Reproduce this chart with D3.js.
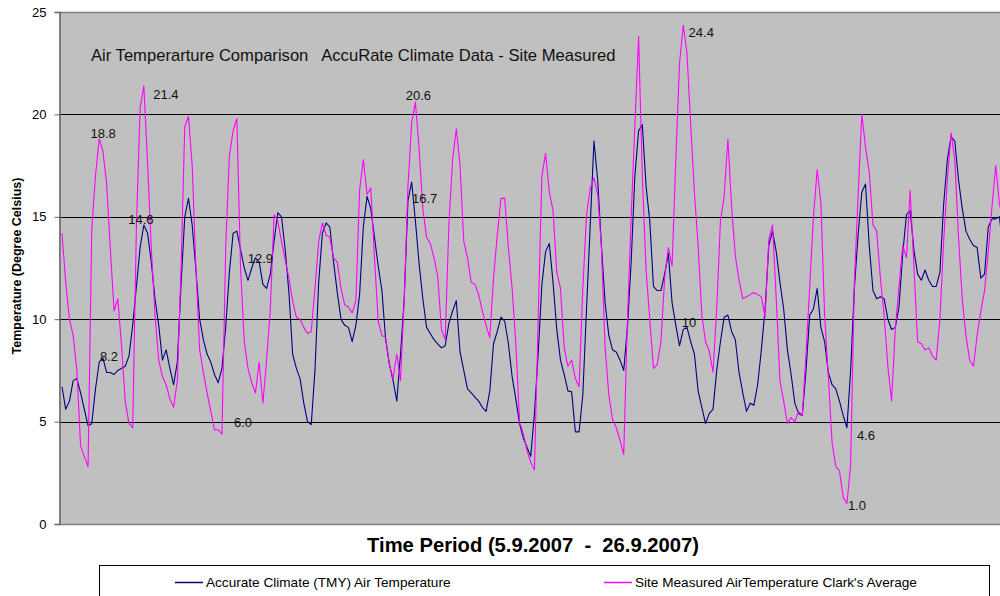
<!DOCTYPE html>
<html><head><meta charset="utf-8">
<script src="https://cdn.jsdelivr.net/npm/d3@7"></script>
<style>
html,body{margin:0;padding:0;background:#fff;}
svg{display:block;font-family:"Liberation Sans",Arial,sans-serif;}
</style></head>
<body><svg id="chart" width="1000" height="596"></svg>
<script>
// ---- data (2-hourly samples, 5.9.2007 - 26.9.2007) ----
const accurateClimate = [
6.7,5.6,6.0,7.0,7.1,6.4,5.6,4.8,4.9,6.6,
7.9,8.1,7.4,7.4,7.3,7.5,7.6,7.7,8.2,9.7,
11.6,13.5,14.6,14.2,12.8,11.0,9.7,8.0,8.5,7.6,
6.8,7.9,11.7,15.0,15.9,14.6,12.4,10.0,9.0,8.3,
7.9,7.3,6.9,7.6,9.6,12.3,14.2,14.3,13.4,12.5,
11.9,12.5,13.0,12.8,11.7,11.5,12.2,13.8,15.2,15.0,
13.4,11.3,8.3,7.6,7.1,5.9,5.0,4.85,7.5,11.8,
14.2,14.7,14.5,12.8,11.3,10.0,9.7,9.6,8.9,9.7,
11.2,14.5,16.0,15.4,14.0,12.6,11.4,9.0,7.8,7.0,
6.0,8.3,11.0,15.8,16.7,14.8,12.7,11.0,9.6,9.3,
9.0,8.8,8.6,8.7,9.8,10.4,10.9,8.4,7.5,6.6,
6.4,6.2,6.0,5.7,5.5,6.5,8.8,9.4,10.1,9.9,
8.8,7.2,6.1,4.9,4.2,3.75,3.3,5.4,8.3,11.7,
13.3,13.7,11.8,9.5,8.0,7.3,6.5,6.45,4.5,4.5,
6.3,10.5,14.6,18.7,16.8,13.6,10.8,9.2,8.5,8.4,
8.0,7.5,9.6,12.8,17.0,19.2,19.5,16.5,14.8,11.6,
11.4,11.4,12.2,13.2,10.8,9.7,8.7,9.5,9.6,8.9,
8.3,6.5,5.7,4.9,5.4,5.6,7.5,8.9,10.1,10.2,
9.4,9.0,7.4,6.4,5.5,5.9,5.8,6.8,8.5,10.5,
13.6,14.3,13.3,11.8,10.5,8.5,7.3,5.9,5.4,5.3,
7.5,10.2,10.5,11.5,9.6,8.9,7.4,6.8,6.6,6.0,
5.3,4.7,7.5,11.5,14.1,16.2,16.6,13.6,11.4,11.0,
11.1,11.0,10.0,9.5,9.6,10.6,13.2,15.1,15.3,13.4,
12.2,11.9,12.4,11.9,11.6,11.6,12.3,15.6,17.8,18.9,
18.7,16.8,15.4,14.3,13.9,13.6,13.5,12.0,12.2,14.5,
14.9,14.9,15.0,13.3
];
const siteMeasured = [
14.2,11.8,10.0,9.2,7.5,3.8,3.3,2.8,14.4,17.0,
18.8,18.2,16.6,13.4,10.4,11.0,8.7,6.0,4.9,4.7,
14.5,20.3,21.4,17.6,13.5,10.2,8.0,7.2,6.8,6.1,
5.7,7.0,12.5,19.4,19.9,17.5,12.5,8.5,7.4,6.4,
5.5,4.6,4.6,4.4,13.5,18.0,19.2,19.8,12.5,8.9,
7.6,6.9,6.4,7.9,5.9,8.0,10.5,15.1,14.8,13.8,
12.9,12.0,10.9,10.1,10.0,9.6,9.3,9.4,11.5,13.8,
14.7,14.1,14.0,13.0,12.8,11.5,10.7,10.6,10.3,10.9,
16.3,17.8,16.1,16.4,13.0,9.9,9.2,9.1,7.8,7.1,
8.3,7.0,11.0,16.5,19.6,20.6,18.3,15.4,14.0,13.7,
13.0,12.1,9.5,9.0,14.6,17.8,19.3,17.5,13.8,13.0,
11.8,11.7,11.2,10.4,9.7,9.1,12.0,14.1,15.9,15.9,
13.5,11.5,8.8,5.0,4.4,3.6,3.0,2.65,10.0,17.0,
18.1,16.2,15.3,12.3,11.5,8.6,7.7,8.0,7.1,6.7,
11.5,15.1,16.4,16.9,16.1,13.5,8.6,6.3,5.1,4.7,
4.1,3.4,10.0,15.0,19.5,23.8,17.0,12.4,10.0,7.6,
7.8,8.9,12.0,13.5,12.6,17.8,22.5,24.35,23.0,19.5,
16.2,13.6,10.2,8.9,8.45,7.4,10.5,14.8,16.0,18.8,
15.5,13.1,11.9,11.0,11.1,11.2,11.3,11.2,11.1,10.1,
13.9,14.6,11.0,7.0,6.0,4.9,5.2,5.0,5.5,5.3,
8.3,11.6,15.0,17.3,15.7,10.2,7.2,4.0,2.8,2.6,
1.3,1.0,2.9,11.8,16.0,20.0,18.4,17.2,14.6,14.3,
12.0,10.2,7.7,6.0,9.5,11.6,13.6,13.0,16.3,12.6,
8.9,8.8,8.5,8.6,8.2,8.0,10.0,13.8,16.8,19.1,
17.8,14.0,11.0,9.2,8.0,7.7,9.2,10.4,11.4,13.3,
15.5,17.5,15.6,14.9
];
const yTicks = [0,5,10,15,20,25];
const seriesNames = ["Accurate Climate (TMY) Air Temperature","Site Measured AirTemperature Clark's Average"];
const seriesColors = ["#000080","#ff00ff"];
const chartTitle = "Air Temperarture Comparison   AccuRate Climate Data - Site Measured";
const xTitle = "Time Period (5.9.2007  -  26.9.2007)";
const yTitle = "Temperature (Degree Celsius)";
// data labels: series index, sample index, text
const labelSeries = [1,1,0,0,0,1,1,0,1,0,0,1];
const labelIndex  = [10,22,22,11,52,43,95,94,167,168,211,211];
const labelText   = ["18.8","21.4","14.6","8.2","12.9","6.0","20.6","16.7","24.4","10","4.6","1.0"];
// label offsets (style, px)
const labelDx = [4,22,-3,6,5,21,3,13,18,2,19,10];
const labelDy = [-5,9,-5,-2,1,-11,-7,17,7,-5,8,2];

// ---- drawing ----
const svg = d3.select("#chart");
const M = {left:59, top:12, right:1040, bottom:524};
const hoursStep = 2;
const x = d3.scaleLinear().domain([0,504]).range([62, 62+504*1.86]);
const y = d3.scaleLinear().domain([0,25]).range([M.bottom, M.top]);

svg.append("rect").attr("x",M.left).attr("y",M.top)
  .attr("width",M.right-M.left).attr("height",M.bottom-M.top).attr("fill","#c0c0c0");

// gridlines
svg.append("g").selectAll("line").data(yTicks.filter(d=>d>0 && d<25)).join("line")
  .attr("x1",M.left).attr("x2",M.right)
  .attr("y1",d=>Math.round(y(d))+0.5).attr("y2",d=>Math.round(y(d))+0.5)
  .attr("stroke","#000").attr("stroke-width",1);

// borders
svg.append("line").attr("x1",M.left).attr("x2",M.right).attr("y1",M.top+0.5).attr("y2",M.top+0.5)
  .attr("stroke","#808080").attr("stroke-width",1.5);
svg.append("line").attr("x1",M.left).attr("x2",M.right).attr("y1",M.bottom+0.5).attr("y2",M.bottom+0.5)
  .attr("stroke","#808080").attr("stroke-width",1.5);

// y axis
const yAxis = d3.axisLeft(y).tickValues(yTicks).tickSize(5).tickPadding(8).tickFormat(d3.format("d"));
const ga = svg.append("g").attr("transform",`translate(${M.left+0.5},0)`).call(yAxis);
ga.select(".domain").attr("stroke","#666").attr("stroke-width",1.5);
ga.selectAll(".tick line").attr("stroke","#666");
ga.selectAll(".tick text").attr("font-size",13).attr("fill","#000")
  .attr("font-family","Liberation Sans, Arial, sans-serif");

// clip
svg.append("clipPath").attr("id","clip").append("rect")
  .attr("x",M.left+1).attr("y",M.top).attr("width",M.right-M.left).attr("height",M.bottom-M.top);

const line = d3.line().x((d,i)=>x(i*hoursStep)).y(d=>y(d));
const allSeries = [accurateClimate, siteMeasured];
const gl = svg.append("g").attr("clip-path","url(#clip)");
[0,1].forEach(s=>{
  gl.append("path").datum(allSeries[s]).attr("d",line)
    .attr("fill","none").attr("stroke",seriesColors[s]).attr("stroke-width",1.1)
    .attr("stroke-linejoin","round");
});

// data labels
const gLab = svg.append("g").attr("font-size",13).attr("fill","#111");
labelText.forEach((t,i)=>{
  const v = allSeries[labelSeries[i]][labelIndex[i]];
  gLab.append("text")
    .attr("x", x(labelIndex[i]*hoursStep)+labelDx[i])
    .attr("y", y(v)+labelDy[i])
    .attr("text-anchor","middle").attr("dominant-baseline","central")
    .text(t);
});

// title inside plot
svg.append("text").attr("x",91).attr("y",61).attr("font-size",16.6).attr("fill","#111")
  .attr("xml:space","preserve").style("white-space","pre").text(chartTitle);

// axis titles
svg.append("text").attr("transform","translate(21,266) rotate(-90)").attr("text-anchor","middle")
  .attr("font-size",12.5).attr("font-weight","bold").text(yTitle);
svg.append("text").attr("x",533).attr("y",552).attr("text-anchor","middle")
  .attr("font-size",20.2).attr("font-weight","bold").attr("xml:space","preserve").style("white-space","pre").text(xTitle);

// legend
svg.append("rect").attr("x",99.5).attr("y",565.5).attr("width",890).attr("height",60)
  .attr("fill","#fff").attr("stroke","#000").attr("stroke-width",1);
const legX = [175, 604];
seriesNames.forEach((n,i)=>{
  svg.append("line").attr("x1",legX[i]).attr("x2",legX[i]+28).attr("y1",582.5).attr("y2",582.5)
    .attr("stroke",seriesColors[i]).attr("stroke-width",1.5);
  svg.append("text").attr("x",legX[i]+31).attr("y",582).attr("dominant-baseline","central")
    .attr("font-size",13.6).attr("fill","#000").text(n);
});
</script></body></html>
